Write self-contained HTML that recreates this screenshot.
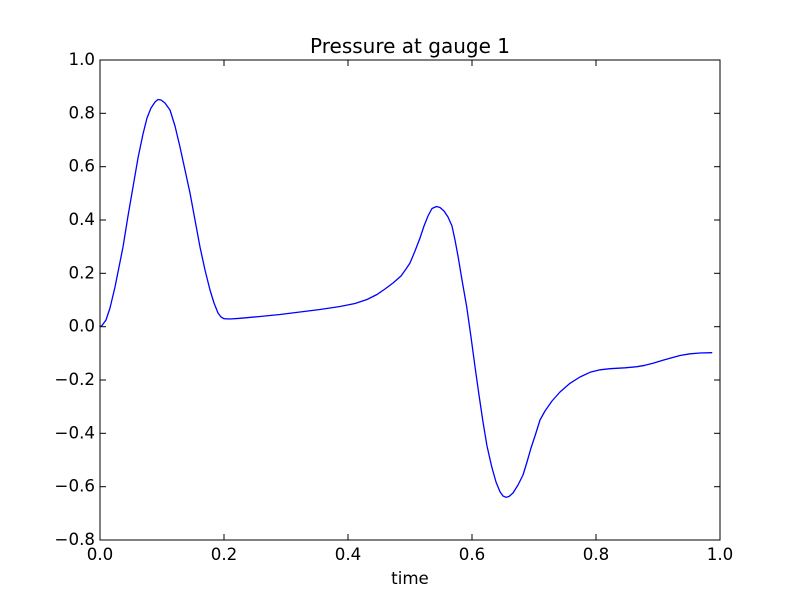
<!DOCTYPE html>
<html>
<head>
<meta charset="utf-8">
<style>
  html, body { margin: 0; padding: 0; background: #ffffff; }
  svg { display: block; }
  text { font-family: "DejaVu Sans", "Liberation Sans", sans-serif; fill: #000; }
</style>
</head>
<body>
<svg width="800" height="600" viewBox="0 0 800 600" xmlns="http://www.w3.org/2000/svg">
  <rect x="0" y="0" width="800" height="600" fill="#ffffff"/>

  <!-- curve -->
  <polyline fill="none" stroke="#0000ff" stroke-width="1.3" stroke-linejoin="round" stroke-linecap="round"
    points="100,326.7 102,325.5 106,320 110,308 115,287 119,267 123,247 128,216 133,187 138,158 143,134 147,118 151,108 155,102 158,99.5 161,100 165,103 170,110 175,126 180,147 185,170 190,193 195,220 200,247 205,270 210,290 214,303 218,313 221,317 224,318.7 230,319 240,318.3 260,316.5 280,314.5 300,312 320,309.5 340,306.5 355,303.5 367,299.5 377,294.5 385,289 393,283 401,276 406,269 410,263 415,251 420,238 424,226 428,216 432,208.5 436.5,206.5 440,207.5 444,211 448,217 452,226 455,240 458,256 462,280 466.7,306.7 471,337 475,366.7 479,395 483,422 487,446 491.7,466.7 496,482 500,491.7 503,496 506,497.3 509,496.5 513,493 518,485 523,475 527,462 531,448 535,436 540,420 545,411 552,401 560,392 570,383.3 580,377 590,372.3 600,369.8 610,368.7 625,367.8 637,366.7 645,365.3 653,363.3 662,360.5 670,358.3 680,355.5 690,353.8 700,353 711.7,352.7"/>

  <!-- axes frame -->
  <rect x="100" y="60" width="620" height="480" fill="none" stroke="#000" stroke-width="1"/>

  <!-- ticks -->
  <g stroke="#000" stroke-width="1">
    <!-- x ticks bottom & top -->
    <line x1="224" y1="540" x2="224" y2="534"/><line x1="224" y1="60" x2="224" y2="66"/>
    <line x1="348" y1="540" x2="348" y2="534"/><line x1="348" y1="60" x2="348" y2="66"/>
    <line x1="472" y1="540" x2="472" y2="534"/><line x1="472" y1="60" x2="472" y2="66"/>
    <line x1="596" y1="540" x2="596" y2="534"/><line x1="596" y1="60" x2="596" y2="66"/>
    <!-- y ticks left & right -->
    <line x1="100" y1="113.3" x2="106" y2="113.3"/><line x1="720" y1="113.3" x2="714" y2="113.3"/>
    <line x1="100" y1="166.7" x2="106" y2="166.7"/><line x1="720" y1="166.7" x2="714" y2="166.7"/>
    <line x1="100" y1="220" x2="106" y2="220"/><line x1="720" y1="220" x2="714" y2="220"/>
    <line x1="100" y1="273.3" x2="106" y2="273.3"/><line x1="720" y1="273.3" x2="714" y2="273.3"/>
    <line x1="100" y1="326.7" x2="106" y2="326.7"/><line x1="720" y1="326.7" x2="714" y2="326.7"/>
    <line x1="100" y1="380" x2="106" y2="380"/><line x1="720" y1="380" x2="714" y2="380"/>
    <line x1="100" y1="433.3" x2="106" y2="433.3"/><line x1="720" y1="433.3" x2="714" y2="433.3"/>
    <line x1="100" y1="486.7" x2="106" y2="486.7"/><line x1="720" y1="486.7" x2="714" y2="486.7"/>
  </g>

  <!-- y tick labels -->
  <g font-size="16.67" text-anchor="end">
    <text x="95" y="65">1.0</text>
    <text x="95" y="118.3">0.8</text>
    <text x="95" y="171.7">0.6</text>
    <text x="95" y="225">0.4</text>
    <text x="95" y="278.3">0.2</text>
    <text x="95" y="331.7">0.0</text>
    <text x="95" y="385">−0.2</text>
    <text x="95" y="438.3">−0.4</text>
    <text x="95" y="491.7">−0.6</text>
    <text x="95" y="545">−0.8</text>
  </g>

  <!-- x tick labels -->
  <g font-size="16.67" text-anchor="middle">
    <text x="100" y="560">0.0</text>
    <text x="224" y="560">0.2</text>
    <text x="348" y="560">0.4</text>
    <text x="472" y="560">0.6</text>
    <text x="596" y="560">0.8</text>
    <text x="720" y="560">1.0</text>
  </g>

  <!-- axis label -->
  <text x="410" y="584" font-size="16.67" text-anchor="middle">time</text>

  <!-- title -->
  <text x="410" y="53" font-size="20" text-anchor="middle">Pressure at gauge 1</text>
</svg>
</body>
</html>
